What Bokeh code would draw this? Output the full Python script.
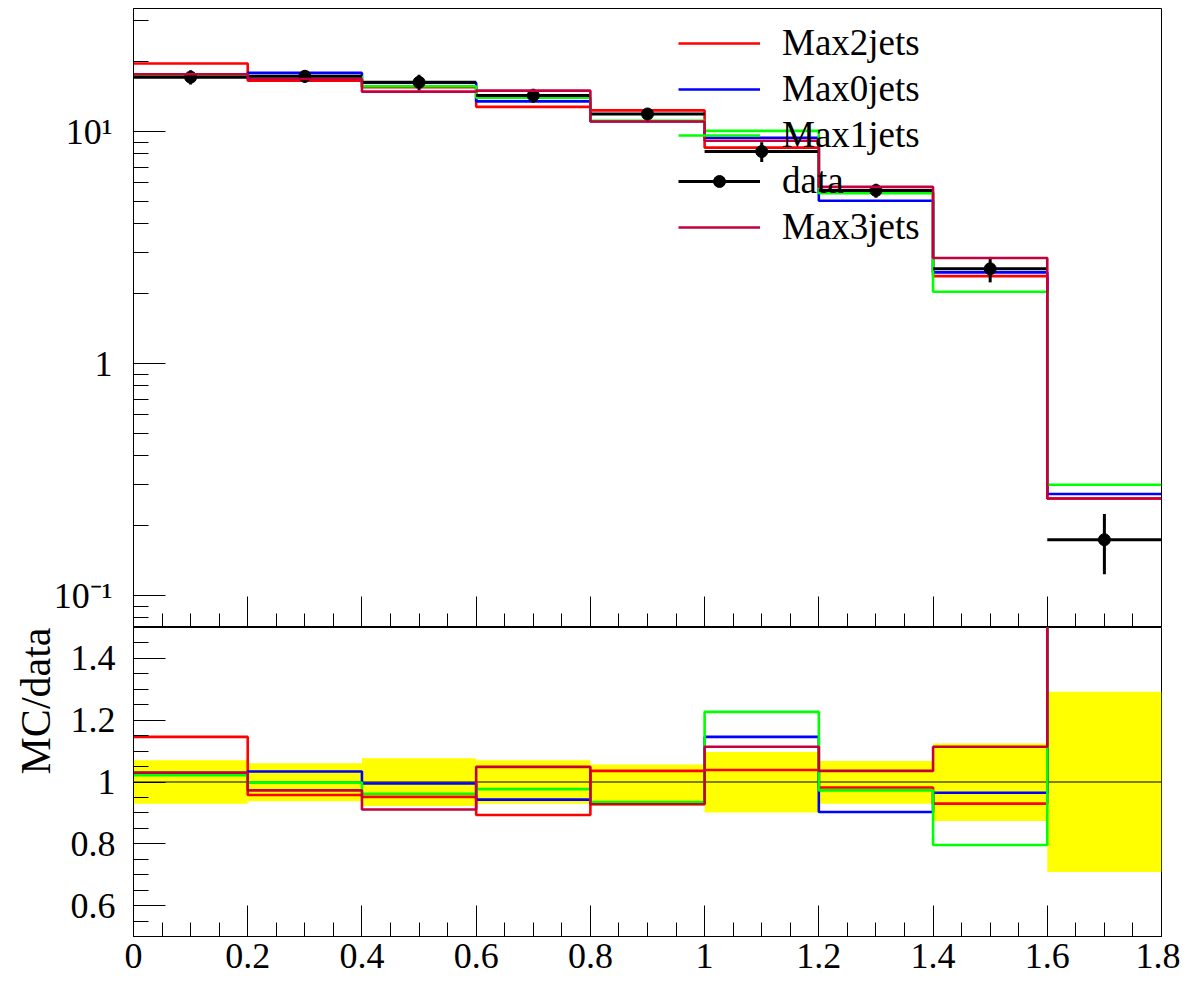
import math
from bokeh.plotting import figure
from bokeh.layouts import column
from bokeh.models import (Range1d, FixedTicker, CustomJSTickFormatter, Legend,
                          LegendItem, ColumnDataSource, Title)
from bokeh.embed import file_html
from bokeh.resources import INLINE

# ---------------- data ----------------
bin_edges = [0.0, 0.2, 0.4, 0.6, 0.8, 1.0, 1.2, 1.4, 1.6, 1.8]
data_vals = [17.15, 17.3, 16.3, 14.3, 11.9, 8.2, 5.57, 2.56, 0.174]
max2jets = [19.65, 16.57, 15.52, 12.77, 12.33, 8.52, 5.47, 2.38, 0.262]
max0jets = [17.66, 17.89, 16.22, 13.48, 11.07, 9.40, 5.03, 2.47, 0.274]
max1jets = [17.53, 17.27, 15.68, 13.97, 11.13, 10.06, 5.42, 2.04, 0.300]
max3jets = [17.66, 16.83, 14.85, 15.00, 11.04, 9.13, 5.77, 2.85, 0.262]

ratio_max2 = [1.146, 0.958, 0.952, 0.893, 1.036, 1.039, 0.982, 0.930, 1.53]
ratio_max0 = [1.030, 1.034, 0.995, 0.943, 0.930, 1.146, 0.903, 0.965, 1.57]
ratio_max1 = [1.022, 0.998, 0.962, 0.977, 0.935, 1.227, 0.973, 0.796, 1.72]
ratio_max3 = [1.030, 0.973, 0.911, 1.049, 0.928, 1.114, 1.036, 1.114, 1.53]
band_lo = [0.930, 0.938, 0.922, 0.930, 0.922, 0.901, 0.930, 0.874, 0.709]
band_hi = [1.070, 1.061, 1.077, 1.070, 1.057, 1.097, 1.068, 1.125, 1.292]

x_ticks = [0.0, 0.2, 0.4, 0.6, 0.8, 1.0, 1.2, 1.4, 1.6, 1.8]
x_tick_labels = ["0", "0.2", "0.4", "0.6", "0.8", "1", "1.2", "1.4", "1.6", "1.8"]
y_top_ticks = [0.1, 1.0, 10.0]
y_top_tick_labels = ["10\u207b\u00b9", "1", "10\u00b9"]
ratio_ticks = [0.6, 0.8, 1.0, 1.2, 1.4]
ratio_tick_labels = ["0.6", "0.8", "1", "1.2", "1.4"]
ratio_title = "MC/data"

# ---------------- styles ----------------
FONT = "Liberation Serif"
RED, BLUE, GREEN, PURPLE = "#ff0000", "#0000ff", "#00ff00", "#c4003e"
LW = 2.6
W = 1180
LEFT, RIGHT = 133, 19

x_minor = [round(i * 0.05, 4) for i in range(0, 37)]
y_top_minor = [k * 10.0 ** e for e in (-2, -1, 0, 1) for k in range(2, 10)]
ratio_minor = [round(0.5 + i * 0.05, 4) for i in range(0, 21)]


def formatter(ticks, labels):
    return CustomJSTickFormatter(args=dict(T=ticks, L=labels), code="""
        for (let i = 0; i < T.length; i++) {
            if (Math.abs(tick - T[i]) < 1e-6 * Math.max(1, Math.abs(T[i]))) return L[i];
        }
        return "";
    """)


def style_axis(ax, maj_in, min_in):
    ax.major_tick_in = maj_in
    ax.major_tick_out = 0
    ax.minor_tick_in = min_in
    ax.minor_tick_out = 0
    ax.major_tick_line_color = "black"
    ax.minor_tick_line_color = "black"
    ax.axis_line_color = "black"
    ax.major_label_text_font = FONT
    ax.major_label_text_color = "black"


def steps(vals):
    return list(vals) + [vals[-1]]


# ---------------- top panel ----------------
p1 = figure(width=W, height=627, x_range=Range1d(bin_edges[0], bin_edges[-1]),
            y_range=Range1d(0.0728, 33.9), y_axis_type="log",
            output_backend="svg", toolbar_location=None,
            min_border_left=LEFT, min_border_right=RIGHT,
            min_border_top=8, min_border_bottom=0)
p1.grid.visible = False
p1.outline_line_color = "black"
p1.outline_line_width = 1

p1.xaxis.ticker = FixedTicker(ticks=x_ticks, minor_ticks=x_minor)
p1.xaxis.formatter = CustomJSTickFormatter(code="return '';")
style_axis(p1.xaxis[0], 31, 14)
p1.xaxis.major_label_text_font_size = "1px"
p1.xaxis.major_label_standoff = 0

p1.yaxis.ticker = FixedTicker(ticks=y_top_ticks, minor_ticks=y_top_minor)
p1.yaxis.formatter = formatter(y_top_ticks, y_top_tick_labels)
style_axis(p1.yaxis[0], 32, 15)
p1.yaxis.major_label_text_font_size = "36px"
p1.yaxis.major_label_standoff = 21

r2 = p1.step(x=bin_edges, y=steps(max2jets), mode="after", line_color=RED, line_width=LW)
r0 = p1.step(x=bin_edges, y=steps(max0jets), mode="after", line_color=BLUE, line_width=LW)
r1 = p1.step(x=bin_edges, y=steps(max1jets), mode="after", line_color=GREEN, line_width=LW)

centers = [(a + b) / 2 for a, b in zip(bin_edges[:-1], bin_edges[1:])]
dsrc = ColumnDataSource(dict(
    x0=bin_edges[:-1], x1=bin_edges[1:], xc=centers, y=data_vals,
    ylo=[d * l for d, l in zip(data_vals, band_lo)],
    yhi=[d * h for d, h in zip(data_vals, band_hi)],
))
rd_h = p1.segment(x0="x0", y0="y", x1="x1", y1="y", source=dsrc, line_color="black", line_width=3)
rd_v = p1.segment(x0="xc", y0="ylo", x1="xc", y1="yhi", source=dsrc, line_color="black", line_width=3)
rd_p = p1.scatter(x="xc", y="y", source=dsrc, size=12, marker="circle",
                  fill_color="black", line_color="black")

r3 = p1.step(x=bin_edges, y=steps(max3jets), mode="after", line_color=PURPLE, line_width=LW)

legend = Legend(items=[
    LegendItem(label="Max2jets", renderers=[r2]),
    LegendItem(label="Max0jets", renderers=[r0]),
    LegendItem(label="Max1jets", renderers=[r1]),
    LegendItem(label="data", renderers=[rd_h, rd_p]),
    LegendItem(label="Max3jets", renderers=[r3]),
], location=(545, 379), orientation="vertical",
    border_line_color=None, background_fill_alpha=0,
    padding=0, margin=0, spacing=3,
    glyph_width=82, glyph_height=30, label_height=41, label_standoff=22,
    label_text_font=FONT, label_text_font_size="37px", label_text_color="black")
p1.add_layout(legend)

# ---------------- ratio panel ----------------
p2 = figure(width=W, height=358, x_range=p1.x_range, y_range=Range1d(0.5, 1.5),
            output_backend="svg", toolbar_location=None,
            min_border_left=LEFT, min_border_right=RIGHT,
            min_border_top=0, min_border_bottom=49)
p2.grid.visible = False
p2.outline_line_color = "black"
p2.outline_line_width = 1

p2.xaxis.ticker = FixedTicker(ticks=x_ticks, minor_ticks=x_minor)
p2.xaxis.formatter = formatter(x_ticks, x_tick_labels)
style_axis(p2.xaxis[0], 31, 14)
p2.xaxis.major_label_text_font_size = "36px"
p2.xaxis.major_label_standoff = 7

p2.yaxis.ticker = FixedTicker(ticks=ratio_ticks, minor_ticks=ratio_minor)
p2.yaxis.formatter = formatter(ratio_ticks, ratio_tick_labels)
style_axis(p2.yaxis[0], 32, 15)
p2.yaxis.major_label_text_font_size = "36px"
p2.yaxis.major_label_standoff = 18

# y title on the left side, aligned to the top end of the ratio frame
p2.add_layout(Title(text=ratio_title, align="right", standoff=17,
                    text_font=FONT, text_font_size="42px",
                    text_font_style="normal", text_color="black"), "left")

p2.quad(left=bin_edges[:-1], right=bin_edges[1:], bottom=band_lo, top=band_hi,
        fill_color="#ffff00", line_color=None)
p2.line(x=[bin_edges[0], bin_edges[-1]], y=[1.0, 1.0], line_color="black", line_width=1)
p2.step(x=bin_edges, y=steps(ratio_max2), mode="after", line_color=RED, line_width=LW)
p2.step(x=bin_edges, y=steps(ratio_max0), mode="after", line_color=BLUE, line_width=LW)
p2.step(x=bin_edges, y=steps(ratio_max1), mode="after", line_color=GREEN, line_width=LW)
p2.step(x=bin_edges, y=steps(ratio_max3), mode="after", line_color=PURPLE, line_width=LW)

layout = column(p1, p2, spacing=0)
open("out.html", "w").write(file_html(layout, INLINE))
